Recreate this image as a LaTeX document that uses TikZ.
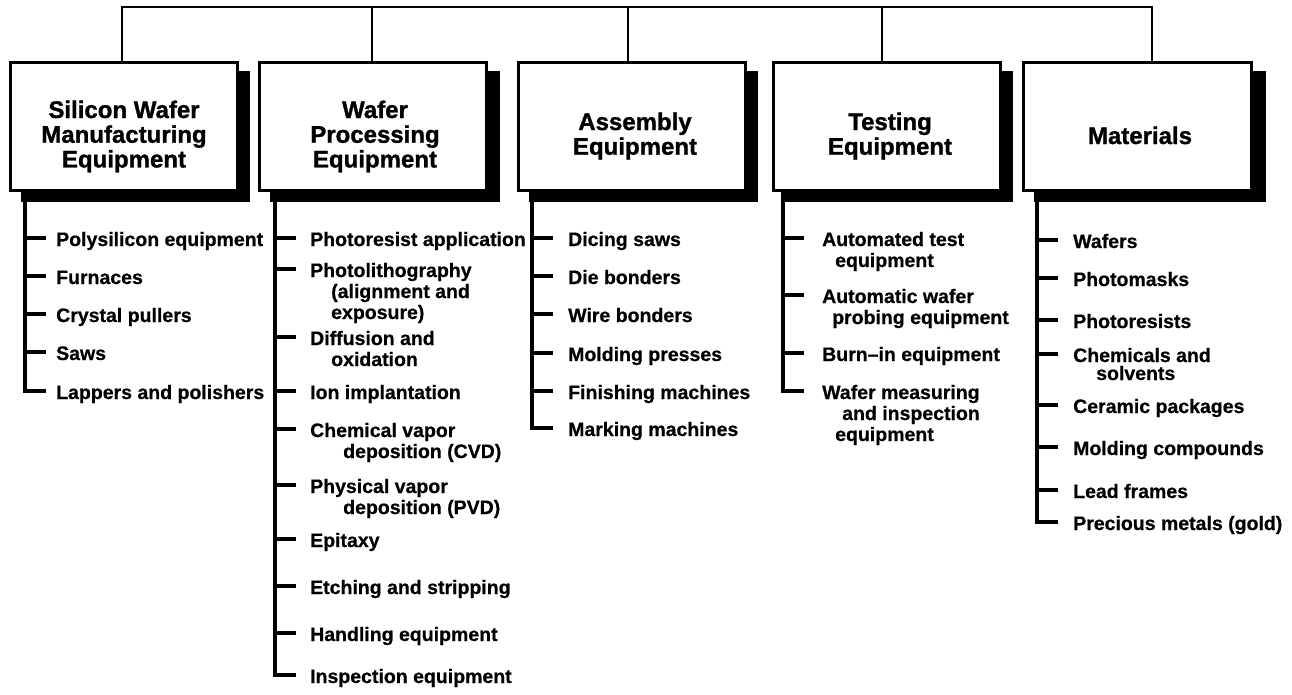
\documentclass[tikz,border=0pt]{standalone}
\usepackage{fontspec}
\setmainfont{Liberation Sans}
\newfontfamily\hdrfont[FakeBold=1.2]{Liberation Sans Bold}
\newfontfamily\itmfont[FakeBold=0.6]{Liberation Sans Bold}
\newcommand\mlines[1]{\begin{tabular}[t]{@{}l@{}}#1\end{tabular}}
\newcommand\hlines[1]{\begin{tabular}[t]{@{}c@{}}#1\end{tabular}}
\tikzset{
  boxframe/.style={draw=black, line width=3pt, fill=white, inner sep=0pt,
    minimum width=227pt, minimum height=128pt},
  boxshadow/.style={fill=black},
  header/.style={font=\fontsize{24}{24.5}\hdrfont, anchor=base, inner sep=0pt},
  itemtext/.style={font=\fontsize{19.5}{21}\itmfont, anchor=base west, inner sep=0pt},
  tick/.style={line width=3.2pt, line join=miter},
  bus/.style={line width=2.6pt, line join=miter},
}
% #1 name, #2 spine x, #3 text x, #4 baseline, #5 text
\newcommand\entry[5]{%
  \node[itemtext] (#1) at (#3,#4) {#5};
  \coordinate (#1s) at (#2,#4-8);
  \draw[tick] (#1s) -- ++(21,0);
}
\begin{document}
\begin{tikzpicture}[x=1pt,y=-1pt]
\useasboundingbox (0,0) rectangle (1292,694);

% shadows
\fill[boxshadow] (21,71) rectangle (250,202);
\fill[boxshadow] (270,71) rectangle (500,202);
\fill[boxshadow] (529,71) rectangle (758,202);
\fill[boxshadow] (784,71) rectangle (1013,202);
\fill[boxshadow] (1034,71) rectangle (1266,202);

% boxes
\node[boxframe] (b1) at (123.5,126) {};
\node[boxframe] (b2) at (373,126) {};
\node[boxframe] (b3) at (631.5,126) {};
\node[boxframe] (b4) at (886.5,126) {};
\node[boxframe, minimum width=228pt] (b5) at (1137,126) {};

% headers
\node[header] (h1) at (124,118) {\hlines{Silicon Wafer\\Manufacturing\\Equipment}};
\node[header] (h2) at (375,118) {\hlines{Wafer\\Processing\\Equipment}};
\node[header] (h3) at (635,130) {\hlines{Assembly\\Equipment}};
\node[header] (h4) at (890,130) {\hlines{Testing\\Equipment}};
\node[header] (h5) at (1140,144) {Materials};

% top bus
\coordinate (d1) at (122,7);
\coordinate (d2) at (372,7);
\coordinate (d3) at (628,7);
\coordinate (d4) at (882,7);
\coordinate (d5) at (1152,7);
\draw[bus] (d1 |- b1.north) -- (d1) -- (d5) -- (d5 |- b5.north);
\draw[bus] (d2) -- (d2 |- b2.north);
\draw[bus] (d3) -- (d3 |- b3.north);
\draw[bus] (d4) -- (d4 |- b4.north);

% column 1
\entry{a1}{25}{56}{246}{Polysilicon equipment}
\entry{a2}{25}{56}{284}{Furnaces}
\entry{a3}{25}{56}{322}{Crystal pullers}
\entry{a4}{25}{56}{360}{Saws}
\entry{a5}{25}{56}{399}{Lappers and polishers}
\coordinate (sp1) at (25,190);
\draw[tick] (sp1) |- ([xshift=21pt]a5s);

% column 2
\entry{p1}{275}{310}{246}{Photoresist application}
\entry{p2}{275}{310}{277}{\mlines{Photolithography\\\hspace*{21pt}(alignment and\\\hspace*{21pt}exposure)}}
\entry{p3}{275}{310}{345}{\mlines{Diffusion and\\\hspace*{21pt}oxidation}}
\entry{p4}{275}{310}{399}{Ion implantation}
\entry{p5}{275}{310}{437}{\mlines{Chemical vapor\\\hspace*{33pt}deposition (CVD)}}
\entry{p6}{275}{310}{493}{\mlines{Physical vapor\\\hspace*{33pt}deposition (PVD)}}
\entry{p7}{275}{310}{547}{Epitaxy}
\entry{p8}{275}{310}{594}{Etching and stripping}
\entry{p9}{275}{310}{641}{Handling equipment}
\entry{p10}{275}{310}{683}{Inspection equipment}
\coordinate (sp2) at (275,190);
\draw[tick] (sp2) |- ([xshift=21pt]p10s);

% column 3
\entry{s1}{532}{568}{246}{Dicing saws}
\entry{s2}{532}{568}{284}{Die bonders}
\entry{s3}{532}{568}{322}{Wire bonders}
\entry{s4}{532}{568}{361}{Molding presses}
\entry{s5}{532}{568}{399}{Finishing machines}
\entry{s6}{532}{568}{436}{Marking machines}
\coordinate (sp3) at (532,190);
\draw[tick] (sp3) |- ([xshift=21pt]s6s);

% column 4
\entry{t1}{783}{822}{246}{\mlines{Automated test\\\hspace*{13pt}equipment}}
\entry{t2}{783}{822}{303}{\mlines{Automatic wafer\\\hspace*{10pt}probing equipment}}
\entry{t3}{783}{822}{361}{Burn–in equipment}
\entry{t4}{783}{822}{399}{\mlines{Wafer measuring\\\hspace*{20pt}and inspection\\\hspace*{13pt}equipment}}
\coordinate (sp4) at (783,190);
\draw[tick] (sp4) |- ([xshift=21pt]t4s);

% column 5
\entry{m1}{1037}{1073}{248}{Wafers}
\entry{m2}{1037}{1073}{286}{Photomasks}
\entry{m3}{1037}{1073}{328}{Photoresists}
\entry{m4}{1037}{1073}{362}{\mlines{Chemicals and\\[-3pt]\hspace*{23pt}solvents}}
\entry{m5}{1037}{1073}{413}{Ceramic packages}
\entry{m6}{1037}{1073}{455}{Molding compounds}
\entry{m7}{1037}{1073}{498}{Lead frames}
\entry{m8}{1037}{1073}{530}{Precious metals (gold)}
\coordinate (sp5) at (1037,190);
\draw[tick] (sp5) |- ([xshift=21pt]m8s);
\end{tikzpicture}
\end{document}
